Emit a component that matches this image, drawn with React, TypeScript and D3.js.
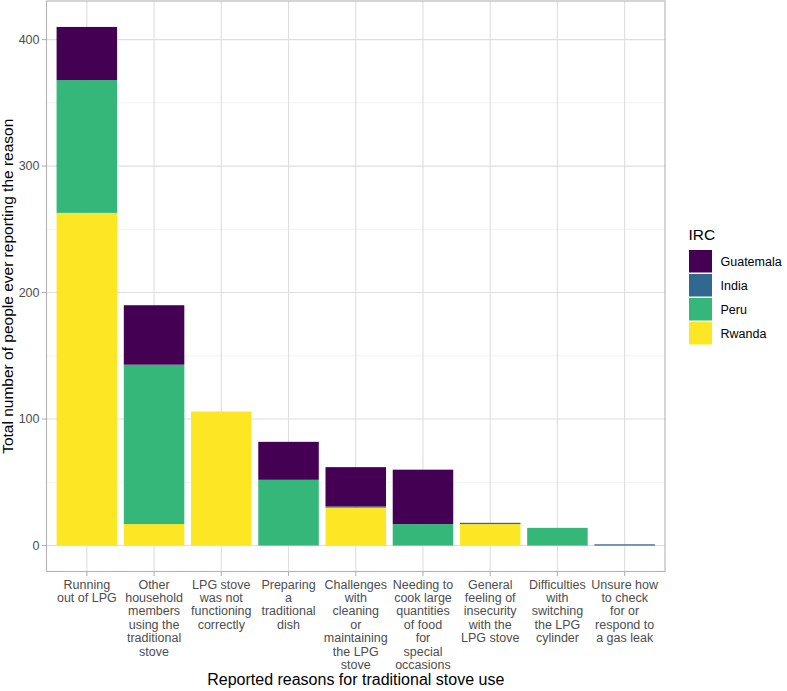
import React, { useEffect, useRef } from "react";
import * as d3 from "d3";

const categories = [
  "Running\nout of LPG",
  "Other\nhousehold\nmembers\nusing the\ntraditional\nstove",
  "LPG stove\nwas not\nfunctioning\ncorrectly",
  "Preparing\na\ntraditional\ndish",
  "Challenges\nwith\ncleaning\nor\nmaintaining\nthe LPG\nstove",
  "Needing to\ncook large\nquantities\nof food\nfor\nspecial\noccasions",
  "General\nfeeling of\ninsecurity\nwith the\nLPG stove",
  "Difficulties\nwith\nswitching\nthe LPG\ncylinder",
  "Unsure how\nto check\nfor or\nrespond to\na gas leak",
];
const guatemala = [42, 47, 0, 30, 31, 43, 0, 0, 0];
const india = [0, 0, 0, 0, 1, 0, 1, 0, 1];
const peru = [105, 126, 0, 52, 0, 17, 0, 14, 0];
const rwanda = [263, 17, 106, 0, 30, 0, 17, 0, 0];
const seriesNames = ["Guatemala", "India", "Peru", "Rwanda"];
const seriesColors = ["#440154", "#31688E", "#35B779", "#FDE725"];
const yTicks = [0, 100, 200, 300, 400];
const yMinor = [50, 150, 250, 350];

export default function App() {
  const ref = useRef<SVGSVGElement>(null);
  useEffect(() => {
    const svg = d3.select(ref.current);
    svg.selectAll("*").remove();
    const font = "'Liberation Sans', Arial, sans-serif";
    const L = 46.5, R = 665, T = 1, B = 571.5;
    const rows = categories.map((c, i) => ({
      cat: c,
      Guatemala: guatemala[i],
      India: india[i],
      Peru: peru[i],
      Rwanda: rwanda[i],
    }));
    const maxV = d3.max(rows, (r) => r.Guatemala + r.India + r.Peru + r.Rwanda) as number;
    const pad = maxV * 0.05;
    const y = d3.scaleLinear().domain([-pad, maxV + pad]).range([B, T]);
    const n = categories.length;
    const x = d3.scaleLinear().domain([0.4, n + 0.6]).range([L, R]);
    const bw = x(1.9) - x(1);

    // grid
    const g = svg.append("g");
    g.selectAll(".ymin").data(yMinor).join("line")
      .attr("x1", L).attr("x2", R).attr("y1", (d) => y(d)).attr("y2", (d) => y(d))
      .attr("stroke", "#EBEBEB").attr("stroke-width", 0.6);
    g.selectAll(".ymaj").data(yTicks).join("line")
      .attr("x1", L).attr("x2", R).attr("y1", (d) => y(d)).attr("y2", (d) => y(d))
      .attr("stroke", "#DEDEDE").attr("stroke-width", 1.1);
    g.selectAll(".xmaj").data(categories).join("line")
      .attr("x1", (_, i) => x(i + 1)).attr("x2", (_, i) => x(i + 1))
      .attr("y1", T).attr("y2", B)
      .attr("stroke", "#DEDEDE").attr("stroke-width", 1.1);

    // bars
    const keys = ["Rwanda", "Peru", "India", "Guatemala"];
    const stack = d3.stack<any>().keys(keys)(rows);
    stack.forEach((s) => {
      const color = seriesColors[seriesNames.indexOf(s.key)];
      svg.append("g").selectAll("rect").data(s).join("rect")
        .attr("x", (_, i) => x(i + 1) - bw / 2)
        .attr("width", bw)
        .attr("y", (d) => y(d[1]))
        .attr("height", (d) => Math.max(0, y(d[0]) - y(d[1])))
        .attr("fill", color);
    });

    // border
    svg.append("rect").attr("x", L).attr("y", T).attr("width", R - L).attr("height", B - T)
      .attr("fill", "none").attr("stroke", "#B3B3B3").attr("stroke-width", 1.1);

    // y ticks
    const ya = svg.append("g");
    ya.selectAll("line").data(yTicks).join("line")
      .attr("x1", L - 4.5).attr("x2", L).attr("y1", (d) => y(d)).attr("y2", (d) => y(d))
      .attr("stroke", "#B3B3B3").attr("stroke-width", 1.1);
    ya.selectAll("text").data(yTicks).join("text")
      .attr("x", L - 7).attr("y", (d) => y(d)).attr("dy", "0.35em")
      .attr("text-anchor", "end").attr("font-family", font).attr("font-size", 12.5)
      .attr("fill", "#4D4D4D").text((d) => String(d));

    // x ticks
    const xa = svg.append("g");
    xa.selectAll("line").data(categories).join("line")
      .attr("x1", (_, i) => x(i + 1)).attr("x2", (_, i) => x(i + 1))
      .attr("y1", B).attr("y2", B + 4.5)
      .attr("stroke", "#B3B3B3").attr("stroke-width", 1.1);
    categories.forEach((c, i) => {
      const t = xa.append("text").attr("text-anchor", "middle")
        .attr("font-family", font).attr("font-size", 12.5).attr("fill", "#4D4D4D");
      c.split("\n").forEach((line, j) => {
        t.append("tspan").attr("x", x(i + 1)).attr("y", 588.5 + j * 13.4).text(line);
      });
    });

    // axis titles
    svg.append("text").attr("x", (L + R) / 2).attr("y", 685).attr("text-anchor", "middle")
      .attr("font-family", font).attr("font-size", 16).attr("fill", "#000")
      .text("Reported reasons for traditional stove use");
    svg.append("text").attr("transform", `translate(12.5,${(T + B) / 2}) rotate(-90)`)
      .attr("text-anchor", "middle").attr("font-family", font).attr("font-size", 15.5)
      .attr("fill", "#000").text("Total number of people ever reporting the reason");

    // legend
    const lg = svg.append("g");
    lg.append("text").attr("x", 688.5).attr("y", 240).attr("font-family", font)
      .attr("font-size", 15.5).attr("fill", "#000").text("IRC");
    seriesNames.forEach((s, i) => {
      lg.append("rect").attr("x", 689).attr("y", 250 + i * 24).attr("width", 23).attr("height", 22.5)
        .attr("fill", seriesColors[i]);
      lg.append("text").attr("x", 720.5).attr("y", 250 + i * 24 + 11.5).attr("dy", "0.35em")
        .attr("font-family", font).attr("font-size", 12.5).attr("fill", "#000").text(s);
    });
  }, []);
  return (
    <svg ref={ref} width={787} height={691}
      style={{ position: "absolute", left: 0, top: 0, background: "#fff" }} />
  );
}
